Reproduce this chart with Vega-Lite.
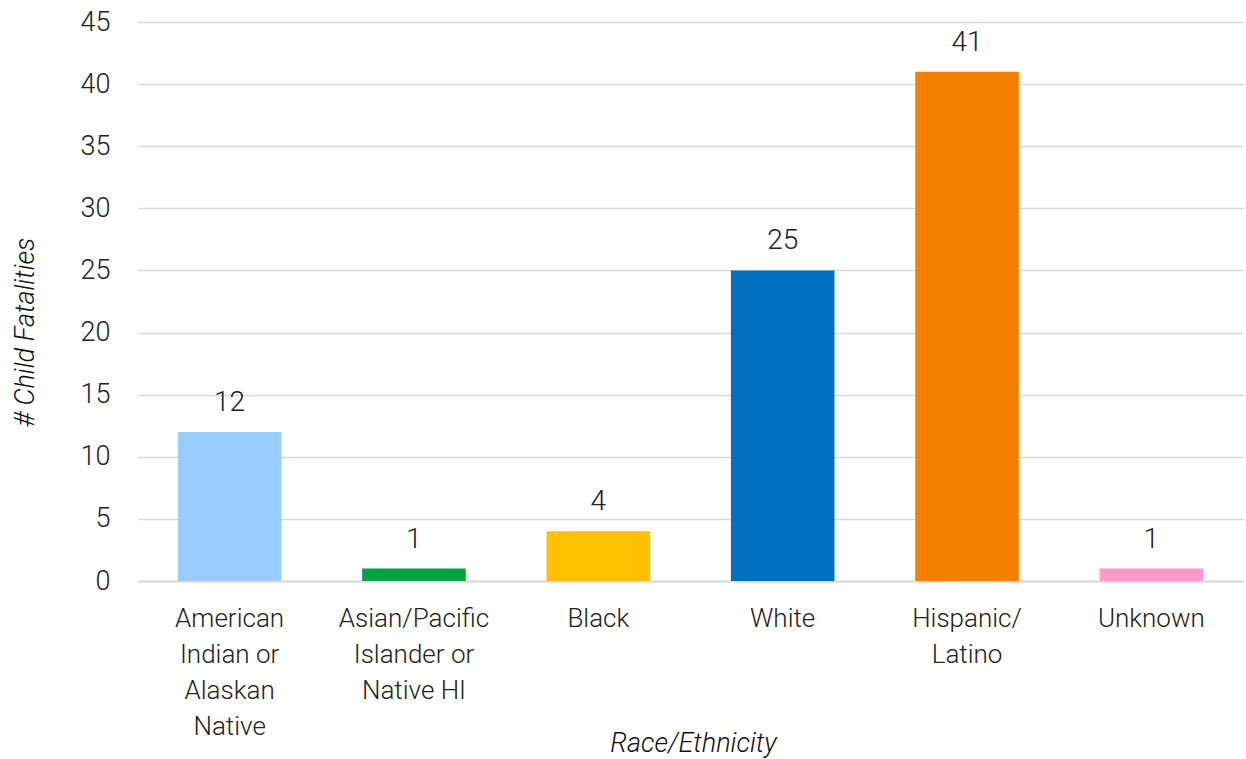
{
  "$schema": "https://vega.github.io/schema/vega-lite/v6.json",
  "width": 1105,
  "height": 559,
  "autosize": {"type": "none"},
  "padding": {"left": 138, "top": 22, "right": 3, "bottom": 178},
  "background": "white",
  "config": {
    "view": {"stroke": null},
    "font": "Roboto"
  },
  "data": {
    "values": [
      {"race": "American Indian or Alaskan Native", "count": 12},
      {"race": "Asian/Pacific Islander or Native HI", "count": 1},
      {"race": "Black", "count": 4},
      {"race": "White", "count": 25},
      {"race": "Hispanic/Latino", "count": 41},
      {"race": "Unknown", "count": 1}
    ]
  },
  "encoding": {
    "x": {
      "field": "race",
      "type": "nominal",
      "sort": null,
      "scale": {"paddingInner": 0.438, "paddingOuter": 0.216},
      "axis": {
        "title": "Race/Ethnicity",
        "titleFont": "Roboto",
        "titleFontStyle": "italic",
        "titleFontWeight": 300,
        "titleFontSize": 27,
        "titleColor": "#111",
        "titleX": 555,
        "titleY": 170,
        "titleAlign": "center",
        "titleBaseline": "alphabetic",
        "labelAngle": 0,
        "labelFontSize": 26,
        "labelFontWeight": 300,
        "labelColor": "#222",
        "labelPadding": 24,
        "labelLineHeight": 36,
        "labelBaseline": "top",
        "ticks": false,
        "domainColor": "#d9d9d9",
        "domainWidth": 2,
        "labelExpr": "datum.label == 'American Indian or Alaskan Native' ? ['American', 'Indian or', 'Alaskan', 'Native'] : datum.label == 'Asian/Pacific Islander or Native HI' ? ['Asian/Pacific', 'Islander or', 'Native HI'] : datum.label == 'Hispanic/Latino' ? ['Hispanic/', 'Latino'] : datum.label"
      }
    }
  },
  "layer": [
    {
      "mark": {"type": "bar"},
      "encoding": {
        "y": {
          "field": "count",
          "type": "quantitative",
          "scale": {"domain": [0, 45]},
          "axis": {
            "values": [0, 5, 10, 15, 20, 25, 30, 35, 40, 45],
            "title": "# Child Fatalities",
            "titleFont": "Roboto",
            "titleFontStyle": "italic",
            "titleFontWeight": 300,
            "titleFontSize": 27,
            "titleColor": "#111",
            "titleX": -105,
            "titleY": 310,
            "titleAngle": -90,
            "titleAlign": "center",
            "titleBaseline": "alphabetic",
            "labelFontSize": 27,
            "labelFontWeight": 300,
            "labelColor": "#222",
            "labelPadding": 28,
            "ticks": false,
            "domain": false,
            "grid": true,
            "gridColor": "#d9d9d9",
            "gridWidth": 1.5
          }
        },
        "color": {
          "field": "race",
          "type": "nominal",
          "sort": null,
          "scale": {
            "domain": ["American Indian or Alaskan Native", "Asian/Pacific Islander or Native HI", "Black", "White", "Hispanic/Latino", "Unknown"],
            "range": ["#99CCFF", "#00A443", "#FFC000", "#0070C0", "#F58000", "#FF99CC"]
          },
          "legend": null
        }
      }
    },
    {
      "mark": {"type": "text", "baseline": "alphabetic", "dy": -21, "fontSize": 28, "fontWeight": 300, "color": "#222"},
      "encoding": {
        "y": {"field": "count", "type": "quantitative"},
        "text": {"field": "count", "type": "quantitative"}
      }
    }
  ]
}
